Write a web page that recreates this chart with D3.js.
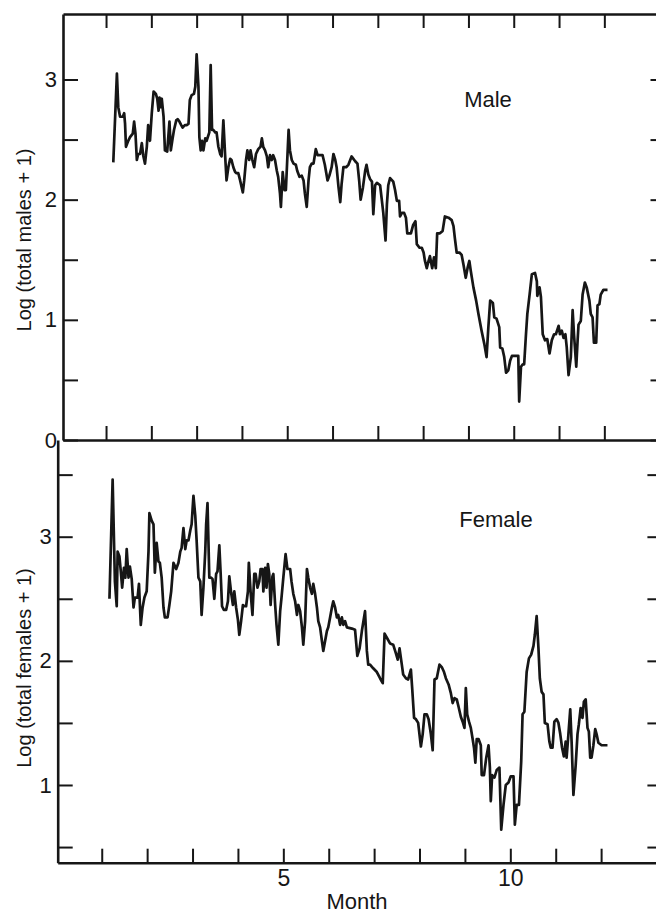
<!DOCTYPE html>
<html>
<head>
<meta charset="utf-8">
<script src="https://cdn.jsdelivr.net/npm/d3@7"></script>
<style>
  html, body { margin: 0; padding: 0; background: #fff; }
  svg { display: block; font-family: "Liberation Sans", Arial, Helvetica, sans-serif; }
</style>
</head>
<body>
<svg id="chart" width="656" height="914"></svg>
<script>
// Month of year (fractional) and log10(count + 1) for each sample
const maleMonth = [
  1.16,1.24,1.27,1.31,1.37,1.40,1.42,1.44,1.49,1.53,1.59,1.62,1.65,1.68,1.71,1.75,1.79,1.82,1.86,1.90,
  1.93,1.97,2.01,2.05,2.10,2.13,2.16,2.18,2.21,2.23,2.27,2.30,2.35,2.40,2.43,2.47,2.50,2.55,2.58,2.62,
  2.66,2.69,2.74,2.78,2.82,2.85,2.89,2.94,2.97,3.00,3.04,3.06,3.09,3.12,3.15,3.19,3.22,3.28,3.31,3.34,
  3.37,3.41,3.44,3.48,3.52,3.55,3.59,3.63,3.66,3.70,3.74,3.77,3.81,3.85,3.88,3.92,3.96,4.02,4.05,4.09,
  4.12,4.16,4.19,4.23,4.27,4.31,4.36,4.41,4.44,4.47,4.51,4.55,4.58,4.62,4.66,4.69,4.73,4.77,4.80,4.84,
  4.86,4.90,4.94,4.97,5.00,5.03,5.06,5.10,5.14,5.19,5.22,5.27,5.32,5.36,5.39,5.43,5.47,5.50,5.54,5.58,
  5.63,5.67,5.72,5.78,5.83,5.89,5.93,5.98,6.02,6.06,6.09,6.13,6.17,6.20,6.24,6.30,6.35,6.42,6.50,6.55,
  6.59,6.62,6.67,6.72,6.75,6.79,6.83,6.87,6.90,6.94,6.98,7.05,7.09,7.12,7.17,7.20,7.23,7.27,7.34,7.38,
  7.42,7.47,7.49,7.53,7.58,7.62,7.65,7.73,7.78,7.83,7.86,7.92,7.97,8.01,8.04,8.08,8.12,8.15,8.20,8.24,
  8.28,8.31,8.37,8.43,8.48,8.56,8.63,8.67,8.70,8.74,8.80,8.85,8.89,8.94,8.98,9.02,9.05,9.11,9.17,9.22,
  9.29,9.35,9.40,9.44,9.48,9.54,9.57,9.62,9.68,9.70,9.75,9.79,9.83,9.88,9.92,9.96,10.03,10.10,10.12,10.16,
  10.20,10.23,10.27,10.30,10.35,10.40,10.47,10.51,10.52,10.57,10.60,10.64,10.69,10.74,10.79,10.84,10.89,10.93,10.99,11.02,
  11.06,11.10,11.14,11.17,11.21,11.26,11.30,11.33,11.38,11.41,11.43,11.48,11.52,11.57,11.61,11.67,11.70,11.74,11.77,11.82,
  11.85,11.89,11.92,11.98,12.07
];
const maleLog = [
  2.31,3.05,2.77,2.69,2.69,2.72,2.63,2.44,2.49,2.52,2.55,2.65,2.55,2.33,2.38,2.38,2.47,2.37,2.30,2.44,
  2.62,2.49,2.72,2.90,2.88,2.84,2.74,2.85,2.77,2.84,2.69,2.41,2.40,2.65,2.41,2.51,2.58,2.66,2.67,2.65,
  2.62,2.60,2.62,2.62,2.63,2.83,2.87,2.88,2.94,3.21,2.94,2.52,2.41,2.49,2.41,2.51,2.49,2.56,3.12,2.58,
  2.58,2.56,2.56,2.44,2.38,2.36,2.66,2.36,2.16,2.27,2.34,2.33,2.27,2.23,2.22,2.22,2.16,2.06,2.16,2.33,
  2.41,2.33,2.41,2.33,2.27,2.38,2.42,2.44,2.51,2.44,2.41,2.36,2.27,2.37,2.33,2.37,2.33,2.24,2.19,2.05,
  1.94,2.23,2.08,2.08,2.33,2.58,2.41,2.33,2.30,2.29,2.24,2.19,2.20,2.16,2.05,1.94,2.16,2.27,2.30,2.30,
  2.42,2.37,2.37,2.37,2.29,2.16,2.20,2.27,2.38,2.33,2.27,2.11,1.98,2.13,2.27,2.27,2.29,2.36,2.32,2.30,
  2.15,2.00,2.10,2.24,2.29,2.21,2.17,2.15,1.88,2.12,2.14,2.12,1.99,1.89,1.66,1.96,2.12,2.18,2.15,2.08,
  1.99,1.99,1.86,1.89,1.89,1.85,1.72,1.72,1.79,1.82,1.63,1.60,1.60,1.56,1.49,1.43,1.49,1.53,1.43,1.52,
  1.43,1.72,1.72,1.74,1.86,1.85,1.83,1.78,1.68,1.56,1.56,1.54,1.46,1.35,1.43,1.49,1.41,1.27,1.16,1.05,
  0.91,0.80,0.69,0.94,1.16,1.14,1.02,1.01,0.94,0.77,0.76,0.69,0.56,0.58,0.66,0.70,0.70,0.70,0.32,0.61,
  0.63,0.63,0.88,1.05,1.21,1.38,1.39,1.32,1.20,1.27,1.19,0.88,0.83,0.84,0.72,0.83,0.88,0.88,0.95,0.88,
  0.91,0.85,0.88,0.77,0.54,0.69,1.08,0.88,0.61,0.83,0.96,0.99,1.21,1.31,1.27,1.16,1.05,1.02,0.81,0.81,
  1.12,1.13,1.21,1.25,1.25
];
const femaleMonth = [
  1.17,1.24,1.29,1.33,1.35,1.39,1.42,1.45,1.49,1.52,1.55,1.59,1.62,1.66,1.70,1.73,1.79,1.82,1.86,1.90,
  1.94,1.99,2.03,2.05,2.10,2.14,2.17,2.21,2.25,2.28,2.32,2.36,2.39,2.45,2.49,2.53,2.58,2.64,2.69,2.73,
  2.76,2.80,2.84,2.87,2.91,2.95,2.98,3.02,3.06,3.09,3.13,3.17,3.20,3.24,3.28,3.30,3.33,3.37,3.41,3.44,
  3.48,3.52,3.55,3.59,3.62,3.65,3.69,3.74,3.78,3.81,3.85,3.89,3.92,3.96,4.00,4.03,4.07,4.11,4.14,4.18,
  4.22,4.24,4.28,4.32,4.36,4.39,4.43,4.47,4.50,4.54,4.56,4.60,4.63,4.66,4.69,4.72,4.76,4.78,4.82,4.85,
  4.89,4.93,4.96,5.00,5.05,5.09,5.15,5.18,5.22,5.26,5.30,5.33,5.37,5.41,5.44,5.48,5.52,5.55,5.59,5.63,
  5.66,5.70,5.74,5.77,5.81,5.85,5.88,5.92,5.96,5.99,6.03,6.07,6.10,6.14,6.18,6.21,6.25,6.29,6.32,6.36,
  6.40,6.51,6.58,6.63,6.68,6.73,6.80,6.84,6.87,6.91,6.98,7.06,7.13,7.19,7.23,7.29,7.35,7.42,7.48,7.52,
  7.56,7.61,7.64,7.70,7.75,7.81,7.84,7.88,7.92,7.97,8.03,8.07,8.11,8.16,8.20,8.25,8.29,8.33,8.38,8.44,
  8.49,8.54,8.58,8.64,8.69,8.73,8.77,8.82,8.86,8.91,8.95,8.99,9.02,9.05,9.09,9.13,9.17,9.20,9.23,9.26,
  9.30,9.35,9.37,9.42,9.47,9.52,9.55,9.57,9.60,9.65,9.70,9.76,9.80,9.85,9.90,9.96,10.01,10.07,10.10,10.14,
  10.19,10.24,10.27,10.31,10.36,10.41,10.46,10.51,10.54,10.58,10.62,10.65,10.69,10.73,10.76,10.82,10.86,10.89,10.93,10.97,
  11.02,11.06,11.10,11.14,11.18,11.22,11.24,11.28,11.32,11.35,11.39,11.44,11.48,11.51,11.55,11.59,11.62,11.66,11.70,11.73,
  11.76,11.79,11.83,11.87,11.90,11.94,12.01,12.14
];
const femaleLog = [
  2.50,3.46,2.64,2.44,2.88,2.84,2.72,2.59,2.75,2.67,2.90,2.67,2.76,2.66,2.43,2.51,2.51,2.62,2.29,2.43,
  2.51,2.56,2.88,3.19,3.13,3.10,2.71,2.95,2.80,2.79,2.67,2.43,2.35,2.35,2.45,2.56,2.79,2.74,2.79,2.88,
  2.91,3.07,2.90,2.97,2.97,3.05,3.10,3.33,3.17,2.97,2.67,2.64,2.37,2.59,2.88,3.10,3.27,2.67,2.67,2.66,
  2.50,2.70,2.72,2.93,2.70,2.44,2.41,2.41,2.48,2.68,2.55,2.45,2.56,2.43,2.33,2.21,2.32,2.45,2.44,2.44,
  2.56,2.79,2.55,2.37,2.70,2.70,2.59,2.64,2.74,2.74,2.56,2.75,2.59,2.78,2.70,2.45,2.68,2.70,2.45,2.29,
  2.13,2.40,2.51,2.67,2.86,2.74,2.74,2.64,2.54,2.48,2.37,2.45,2.40,2.27,2.13,2.32,2.74,2.67,2.59,2.54,
  2.62,2.54,2.43,2.32,2.27,2.16,2.08,2.16,2.24,2.27,2.35,2.43,2.48,2.43,2.35,2.37,2.29,2.35,2.29,2.32,
  2.27,2.26,2.25,2.04,2.10,2.24,2.40,2.08,1.97,1.97,1.94,1.91,1.86,1.82,2.22,2.18,2.14,2.13,2.06,2.01,
  2.10,1.97,1.89,1.86,1.85,1.93,1.77,1.54,1.53,1.50,1.31,1.41,1.57,1.57,1.53,1.41,1.28,1.85,1.86,1.97,
  1.95,1.91,1.86,1.81,1.74,1.66,1.70,1.69,1.63,1.55,1.51,1.46,1.78,1.57,1.51,1.46,1.37,1.30,1.18,1.37,
  1.37,1.32,1.08,1.08,1.22,1.32,1.14,0.87,1.08,1.06,1.12,1.14,0.64,0.84,1.00,1.02,1.07,1.07,0.68,0.84,
  0.84,1.19,1.57,1.59,1.91,2.02,2.05,2.12,2.21,2.36,2.10,1.86,1.75,1.73,1.50,1.49,1.35,1.30,1.30,1.51,
  1.53,1.50,1.41,1.30,1.23,1.35,1.22,1.41,1.61,1.35,0.92,1.16,1.41,1.49,1.62,1.54,1.67,1.69,1.46,1.43,
  1.22,1.22,1.32,1.45,1.41,1.34,1.32,1.32
];

// Axis ticks and labels
const monthTicks = [1, 2, 3, 4, 5, 6, 7, 8, 9, 10, 11, 12];
const monthLabels = [5, 10];
const maleTicks = [0, 0.5, 1, 1.5, 2, 2.5, 3];
const maleTickLabels = [0, 1, 2, 3];
const femaleTicks = [0.5, 1, 1.5, 2, 2.5, 3, 3.5];
const femaleTickLabels = [1, 2, 3];
const panelNames = ["Male", "Female"];
const yTitles = ["Log (total males + 1)", "Log (total females + 1)"];
const xTitle = "Month";

const svg = d3.select("#chart");
const ink = "#161616";

// Upper panel (males)
const xTop = d3.scaleLinear().domain([0.05, 13.35]).range([63, 665.5]);
const yMale = d3.scaleLinear().domain([0, 3.545]).range([440, 14]);
// Lower panel (females)
const xBot = d3.scaleLinear().domain([0.03, 13.35]).range([57.7, 662.4]);
const yFem = d3.scaleLinear().domain([0.374, 3.779]).range([862.7, 440]);

function styleAxis(g, fontSize) {
  g.select(".domain").attr("stroke", ink).attr("stroke-width", 2.6);
  g.selectAll(".tick line").attr("stroke", ink).attr("stroke-width", 2);
  g.selectAll(".tick text").attr("fill", ink).style("font-size", fontSize + "px")
    .style("font-family", '"Liberation Sans", Arial, sans-serif');
  g.attr("font-family", null).attr("font-size", null);
}

// --- male frame ---
svg.append("g").attr("transform", `translate(0,${yMale.range()[1]})`)
  .call(d3.axisBottom(xTop).tickValues(monthTicks).tickSizeInner(14).tickSizeOuter(0).tickFormat(""))
  .call(g => styleAxis(g, 22));
svg.append("g").attr("transform", `translate(0,${yMale.range()[0]})`)
  .call(d3.axisTop(xTop).tickValues(monthTicks).tickSizeInner(14).tickSizeOuter(0).tickFormat(""))
  .call(g => styleAxis(g, 22));
svg.append("g").attr("transform", `translate(${xTop.range()[0]},0)`)
  .call(d3.axisLeft(yMale).tickValues(maleTicks).tickSizeInner(-15).tickSizeOuter(0).tickPadding(6)
    .tickFormat(d => maleTickLabels.includes(d) ? d : ""))
  .call(g => styleAxis(g, 22));
svg.append("g").attr("transform", `translate(${xTop.range()[1]},0)`)
  .call(d3.axisLeft(yMale).tickValues(maleTicks).tickSizeInner(15).tickSizeOuter(0).tickFormat(""))
  .call(g => styleAxis(g, 22));

// --- female frame ---
svg.append("g").attr("transform", `translate(0,${yFem.range()[0]})`)
  .call(d3.axisBottom(xBot).tickValues(monthTicks).tickSizeInner(-14).tickSizeOuter(0).tickPadding(7)
    .tickFormat(d => monthLabels.includes(d) ? d : ""))
  .call(g => styleAxis(g, 23));
svg.append("g").attr("transform", `translate(${xBot.range()[0]},0)`)
  .call(d3.axisLeft(yFem).tickValues(femaleTicks).tickSizeInner(-15).tickSizeOuter(0).tickPadding(6)
    .tickFormat(d => femaleTickLabels.includes(d) ? d : ""))
  .call(g => styleAxis(g, 22));
svg.append("g").attr("transform", `translate(${xBot.range()[1]},0)`)
  .call(d3.axisLeft(yFem).tickValues(femaleTicks).tickSizeInner(15).tickSizeOuter(0).tickFormat(""))
  .call(g => styleAxis(g, 22));

// --- series ---
const maleLine = d3.line().x(i => xTop(maleMonth[i])).y(i => yMale(maleLog[i]));
const femaleLine = d3.line().x(i => xBot(femaleMonth[i])).y(i => yFem(femaleLog[i]));

svg.append("path").attr("d", maleLine(d3.range(maleMonth.length)))
  .attr("fill", "none").attr("stroke", ink).attr("stroke-width", 2.7).attr("stroke-linejoin", "round");
svg.append("path").attr("d", femaleLine(d3.range(femaleMonth.length)))
  .attr("fill", "none").attr("stroke", ink).attr("stroke-width", 2.7).attr("stroke-linejoin", "round");

// --- labels ---
svg.append("text").attr("x", 488).attr("y", 107).attr("text-anchor", "middle")
  .attr("fill", ink).style("font-size", "22px").text(panelNames[0]);
svg.append("text").attr("x", 496).attr("y", 527).attr("text-anchor", "middle")
  .attr("fill", ink).style("font-size", "22px").text(panelNames[1]);

svg.append("text").attr("transform", "translate(31,240) rotate(-90)").attr("text-anchor", "middle")
  .attr("fill", ink).style("font-size", "20px").text(yTitles[0]);
svg.append("text").attr("transform", "translate(31,668) rotate(-90)").attr("text-anchor", "middle")
  .attr("fill", ink).style("font-size", "20px").text(yTitles[1]);

svg.append("text").attr("x", 357).attr("y", 909).attr("text-anchor", "middle")
  .attr("fill", ink).style("font-size", "22px").text(xTitle);
</script>
</body>
</html>
